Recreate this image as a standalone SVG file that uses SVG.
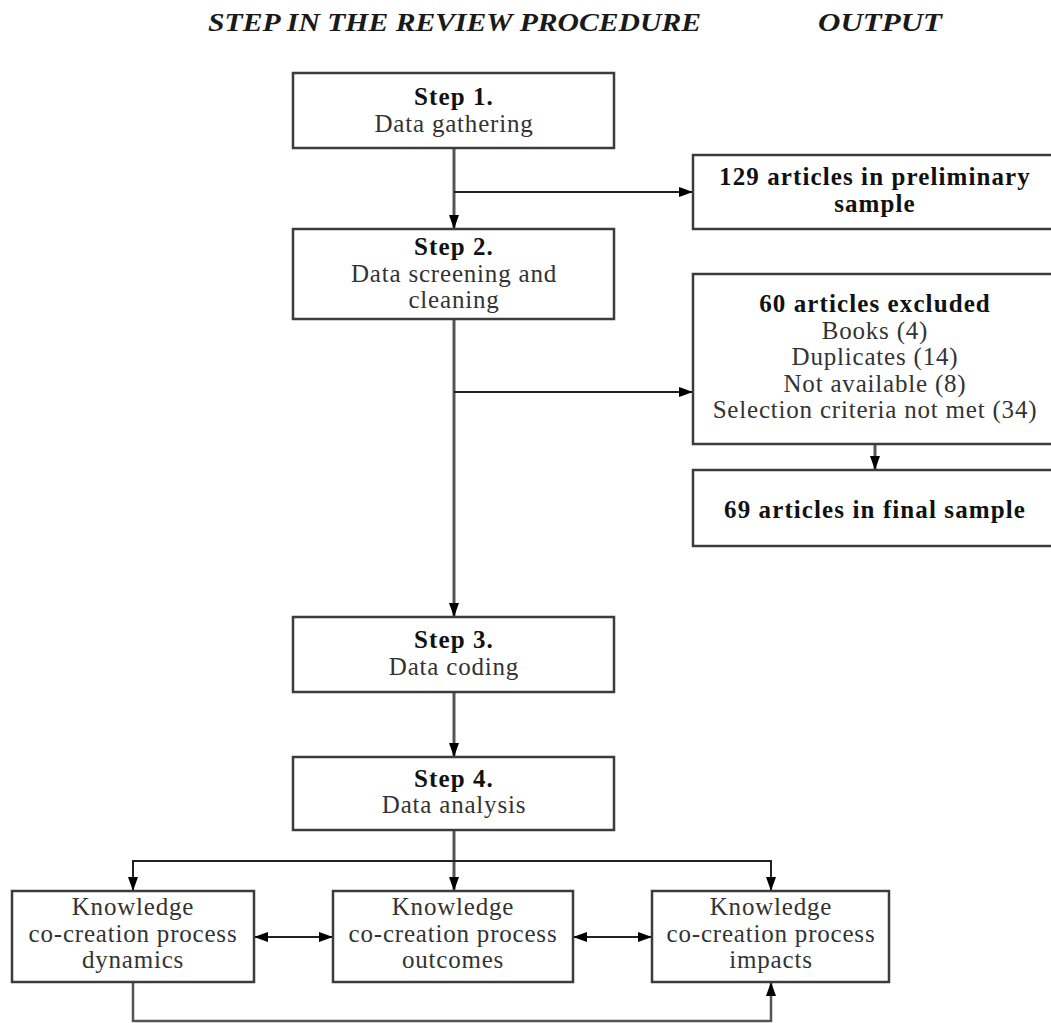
<svg xmlns="http://www.w3.org/2000/svg" width="1051" height="1023" viewBox="0 0 1051 1023">
  <style>
    .box { fill: #ffffff; stroke: #3c3c3c; stroke-width: 2.5; }
    .line { fill: none; stroke: #222222; stroke-width: 2; }
    .vline { fill: none; stroke: #555555; stroke-width: 3; }
    text { font-family: "Liberation Serif", "Times New Roman", serif; font-size: 25px; letter-spacing: 0.8px; text-anchor: middle; fill: #333333; }
    .b { font-weight: bold; letter-spacing: 1.1px; fill: #111111; }
    .head { font-weight: bold; font-style: italic; fill: #1a1a1a; font-size: 25px; letter-spacing: 0; text-anchor: start; }
  </style>
  <defs>
    <marker id="arrow" viewBox="0 0 14 10" markerWidth="14" markerHeight="10" refX="14" refY="5" orient="auto-start-reverse" markerUnits="userSpaceOnUse">
      <path d="M0,0 L14,5 L0,10 z" fill="#000000"/>
    </marker>
  </defs>
  <rect width="1051" height="1023" fill="#ffffff"/>

  <!-- column headings -->
  <g id="headings">
    <text class="head" x="208" y="31" textLength="493" lengthAdjust="spacingAndGlyphs">STEP IN THE REVIEW PROCEDURE</text>
    <text class="head" x="818" y="31" textLength="124" lengthAdjust="spacingAndGlyphs">OUTPUT</text>
  </g>

  <!-- connectors -->
  <g id="connectors">
    <line class="vline" x1="454" y1="148" x2="454" y2="229" marker-end="url(#arrow)"/>
    <line class="line" x1="454" y1="192" x2="693" y2="192" marker-end="url(#arrow)"/>
    <line class="vline" x1="454" y1="319" x2="454" y2="617" marker-end="url(#arrow)"/>
    <line class="line" x1="454" y1="392" x2="693" y2="392" marker-end="url(#arrow)"/>
    <line class="vline" x1="875" y1="444" x2="875" y2="470" marker-end="url(#arrow)"/>
    <line class="vline" x1="454" y1="692" x2="454" y2="757" marker-end="url(#arrow)"/>
    <line class="vline" x1="454" y1="830" x2="454" y2="891" marker-end="url(#arrow)"/>
    <polyline class="line" points="133,891 133,861 771,861 771,891" marker-start="url(#arrow)" marker-end="url(#arrow)"/>
    <line class="line" x1="254" y1="937" x2="333" y2="937" marker-start="url(#arrow)" marker-end="url(#arrow)"/>
    <line class="line" x1="573" y1="937" x2="652" y2="937" marker-start="url(#arrow)" marker-end="url(#arrow)"/>
    <polyline class="vline" points="133,982 133,1021 771,1021 771,982" style="stroke-width:2.5" marker-end="url(#arrow)"/>
  </g>

  <!-- review steps -->
  <g id="step1">
    <rect class="box" x="293" y="73" width="321" height="75"/>
    <text class="b" x="454" y="105">Step 1.</text>
    <text x="454" y="132">Data gathering</text>
  </g>
  <g id="step2">
    <rect class="box" x="293" y="229" width="321" height="90"/>
    <text class="b" x="454" y="255">Step 2.</text>
    <text x="454" y="282">Data screening and</text>
    <text x="454" y="308">cleaning</text>
  </g>
  <g id="step3">
    <rect class="box" x="293" y="617" width="321" height="75"/>
    <text class="b" x="454" y="648">Step 3.</text>
    <text x="454" y="675">Data coding</text>
  </g>
  <g id="step4">
    <rect class="box" x="293" y="757" width="321" height="73"/>
    <text class="b" x="454" y="787">Step 4.</text>
    <text x="454" y="813">Data analysis</text>
  </g>

  <!-- outputs -->
  <g id="preliminary">
    <rect class="box" x="693" y="155" width="364" height="74"/>
    <text class="b" x="875" y="185">129 articles in preliminary</text>
    <text class="b" x="875" y="212">sample</text>
  </g>
  <g id="excluded">
    <rect class="box" x="693" y="274" width="364" height="170"/>
    <text class="b" x="875" y="312">60 articles excluded</text>
    <text x="875" y="339">Books (4)</text>
    <text x="875" y="365">Duplicates (14)</text>
    <text x="875" y="392">Not available (8)</text>
    <text x="875" y="418">Selection criteria not met (34)</text>
  </g>
  <g id="final">
    <rect class="box" x="693" y="470" width="364" height="76"/>
    <text class="b" x="875" y="518">69 articles in final sample</text>
  </g>

  <!-- analysis results -->
  <g id="dynamics">
    <rect class="box" x="12" y="891" width="242" height="91"/>
    <text x="133" y="915">Knowledge</text>
    <text x="133" y="942">co-creation process</text>
    <text x="133" y="968">dynamics</text>
  </g>
  <g id="outcomes">
    <rect class="box" x="333" y="891" width="240" height="91"/>
    <text x="453" y="915">Knowledge</text>
    <text x="453" y="942">co-creation process</text>
    <text x="453" y="968">outcomes</text>
  </g>
  <g id="impacts">
    <rect class="box" x="652" y="891" width="237" height="91"/>
    <text x="771" y="915">Knowledge</text>
    <text x="771" y="942">co-creation process</text>
    <text x="771" y="968">impacts</text>
  </g>
</svg>
